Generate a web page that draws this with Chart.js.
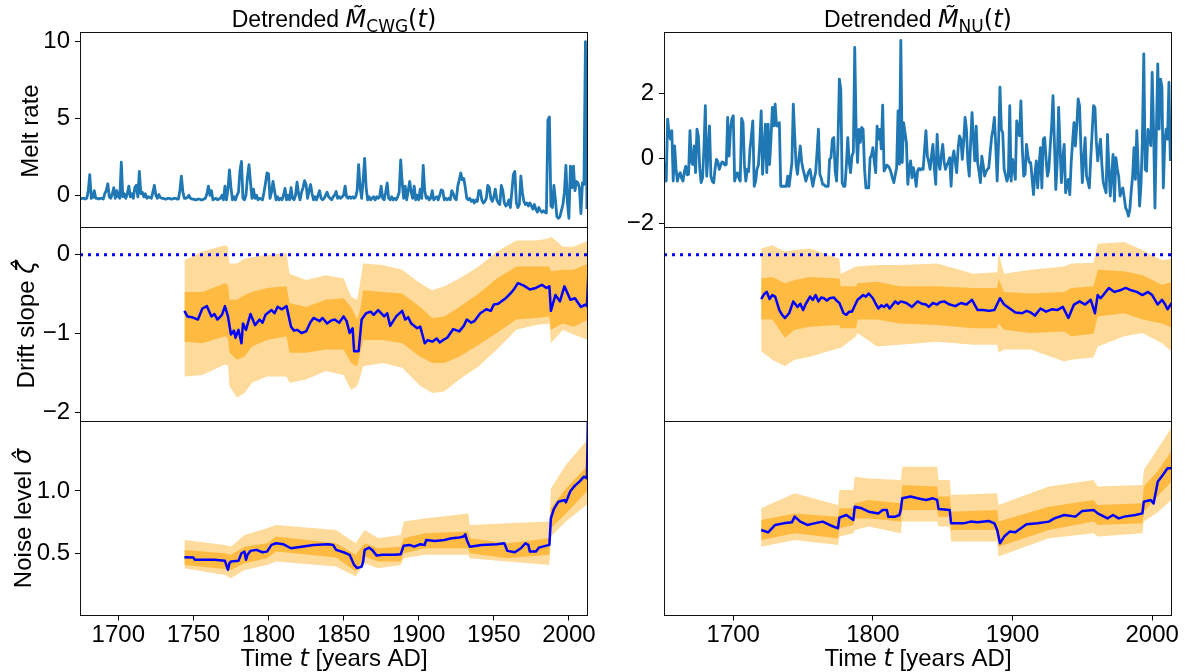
<!DOCTYPE html>
<html><head><meta charset="utf-8">
<script src="https://cdn.jsdelivr.net/npm/chart.js@4.4.1/dist/chart.umd.min.js"></script>
<style>
html,body{margin:0;padding:0;background:#fff;}
body{width:1187px;height:672px;position:relative;overflow:hidden;}
canvas{position:absolute;}
</style></head><body>
<canvas id="p11"></canvas><canvas id="p12"></canvas>
<canvas id="p21"></canvas><canvas id="p22"></canvas>
<canvas id="p31"></canvas><canvas id="p32"></canvas>
<script>
// ---------------- DATA ----------------
// Detrended melt rate, CWG (annual, 1675-2012)
const cwgStart = 1675;
const cwgMelt = [
-0.25,-0.2,-0.2,-0.25,-0.2,
0.3,1.35,-0.2,-0.15,0.3,-0.2,-0.2,-0.25,-0.2,-0.2,
-0.25,0.1,0.3,0.75,-0.1,-0.2,0.1,0.5,-0.2,0.3,
-0.1,-0.2,2.15,-0.1,0.1,-0.2,0.1,0.6,-0.1,0.1,
-0.2,0.5,0.65,-0.1,1.55,0.1,0.2,-0.1,0.1,-0.2,
-0.1,-0.15,-0.2,0.2,0.65,0.0,-0.2,0.05,-0.15,-0.2,
-0.2,-0.25,-0.25,-0.2,-0.2,-0.25,-0.25,-0.2,-0.2,-0.25,
-0.25,0.3,1.25,0.2,-0.2,-0.2,-0.15,0.0,-0.2,-0.25,
-0.25,-0.3,-0.3,-0.25,-0.25,-0.3,-0.3,-0.25,-0.2,0.1,
0.6,0.0,0.3,-0.3,-0.25,-0.2,-0.3,-0.25,-0.2,0.0,
-0.3,0.6,-0.3,0.4,1.65,0.5,-0.3,-0.1,-0.3,0.0,
0.2,1.6,2.2,-0.2,-0.3,0.0,1.2,2.0,0.85,-0.2,
0.4,-0.2,0.0,-0.3,-0.2,-0.25,-0.3,0.2,0.8,1.45,
1.4,-0.2,0.2,0.9,0.3,-0.3,-0.1,-0.3,-0.2,-0.3,
0.0,0.45,-0.3,0.0,-0.3,0.5,-0.2,-0.3,0.0,0.85,
0.1,-0.3,0.2,0.5,0.95,0.7,-0.2,0.3,0.7,0.1,
-0.3,-0.1,-0.3,0.0,0.3,-0.2,-0.3,-0.2,0.0,0.2,
-0.1,-0.2,-0.3,-0.1,0.0,0.25,-0.2,-0.1,-0.2,-0.1,
0.0,0.6,-0.1,-0.2,-0.1,-0.2,-0.1,-0.2,-0.1,0.3,
2.0,0.5,-0.2,1.0,2.4,0.5,-0.3,-0.1,-0.3,-0.2,
-0.1,-0.3,-0.1,-0.2,-0.1,0.6,-0.2,-0.3,0.2,0.8,
-0.2,-0.3,-0.1,-0.3,-0.2,-0.3,-0.1,0.2,2.3,0.8,
-0.2,0.6,-0.3,0.3,0.9,0.2,-0.2,0.6,-0.3,0.0,
-0.3,0.4,-0.2,1.95,0.3,-0.2,-0.1,-0.3,-0.2,0.3,
-0.3,-0.2,-0.1,-0.3,0.0,0.35,0.3,-0.3,-0.2,-0.3,
-0.2,-0.3,0.3,0.1,-0.2,-0.3,0.6,1.0,1.45,1.0,
1.1,0.5,-0.2,-0.3,-0.2,-0.4,-0.3,-0.5,-0.3,-0.4,
0.3,0.3,-0.3,-0.5,-0.4,-0.2,0.65,0.5,-0.2,-0.4,
-0.1,0.4,-0.3,-0.5,-0.6,0.65,0.3,-0.5,-0.7,-0.6,
-0.3,-0.8,0.2,1.35,1.55,-0.5,-0.8,-0.6,1.25,0.2,
-0.4,-0.6,-0.5,-0.7,-0.5,-0.7,-0.9,-0.6,-0.9,-1.1,
-0.8,-1.0,-1.1,-1.0,-1.1,-1.15,4.9,5.1,-0.7,-0.8,
0.65,-0.3,-1.4,-1.5,-1.4,-1.0,-0.6,0.2,1.95,-0.5,
-1.5,1.9,0.5,1.9,0.3,0.9,0.8,0.5,-1.2,0.8,
0.7,10.0,-0.9];

// Detrended melt rate, NU (annual, 1651-2013)
const nuStart = 1651;
const nuMelt = [
-0.12,-0.69,1.22,0.8,0.6,0.86,-0.69,0.39,-0.3,
-0.69,-0.5,-0.43,-0.6,-0.69,-0.4,-0.23,-0.5,-0.48,0.86,
-0.1,-0.18,0.39,-0.43,0.91,0.7,-0.3,-0.74,-0.6,0.29,
1.63,-0.54,0.2,1.01,-0.54,-0.7,-0.74,-0.3,-0.02,-0.1,
-0.33,-0.2,-0.1,-0.12,-0.2,-0.18,1.27,0.08,0.9,1.22,
1.32,-0.69,-0.5,-0.43,-0.6,-0.69,1.24,1.11,-0.2,-0.69,
-0.33,-0.4,0.3,0.7,1.16,-0.85,-0.7,-0.33,-0.2,0.5,
1.47,-0.48,0.3,1.06,-0.43,1.06,-0.18,0.6,1.58,1.01,
1.68,1.01,1.0,1.11,-0.85,-0.85,-0.85,-0.85,-0.85,-0.54,
-0.85,-0.5,-0.12,1.68,0.7,-0.2,-0.48,0.0,0.39,-0.1,
-0.33,-0.5,-0.69,-0.54,-0.4,-0.33,-0.6,-0.85,-0.6,-0.43,
0.2,0.91,-0.48,-0.6,-0.79,-0.8,-0.85,-0.85,-0.85,-0.02,
0.03,0.6,0.65,-0.4,-0.69,0.5,2.45,2.14,-0.74,-0.85,
-0.85,-0.2,0.65,-0.1,-0.43,0.08,0.2,3.43,0.85,-0.12,
0.9,0.5,0.96,0.9,-0.3,-0.9,-0.9,-0.9,0.03,0.1,
0.34,-0.1,-0.43,1.0,0.6,0.9,0.3,1.65,-0.38,-0.3,
-0.2,-0.23,-0.3,-0.43,-0.6,-0.74,-0.5,-0.28,1.47,-0.17,
3.64,-0.12,1.11,0.8,0.49,-0.79,-0.3,-0.07,-0.59,-0.28,
-0.5,-0.85,-0.38,-0.3,-0.35,-0.3,-0.33,0.3,0.86,0.08,
-0.1,-0.33,0.1,0.44,-0.3,-0.79,0.75,-0.1,-0.33,0.1,
0.44,-0.1,-0.33,-0.2,-0.1,0.03,-0.85,0.0,0.24,-0.1,
-0.43,0.3,0.7,0.6,-0.02,0.5,1.27,0.9,-0.1,-0.54,
0.5,1.42,0.6,-0.07,1.0,-0.12,-0.4,-0.74,0.08,-0.2,
-0.54,-0.4,-0.33,-0.28,0.2,0.65,0.9,1.27,0.39,-0.69,
0.5,2.2,0.9,0.8,-0.33,-0.5,-0.69,-0.54,1.63,-0.69,
-0.02,-0.3,-0.64,1.16,0.9,0.7,1.78,0.3,-0.54,-0.48,
0.44,0.1,-0.12,-0.12,-0.6,-1.11,-0.5,-0.07,-0.9,-0.2,
0.34,-0.9,0.6,0.65,0.0,-0.54,-0.33,0.39,1.0,1.94,
0.5,-0.95,-0.12,1.58,0.4,-0.74,0.0,0.44,-1.05,-0.8,
-0.64,-1.11,-0.12,0.5,1.11,0.39,1.0,1.84,1.63,0.3,
-0.74,0.0,0.65,-0.54,-0.7,-0.9,0.0,0.8,1.63,1.58,
0.54,-0.07,0.3,0.6,-0.2,-0.74,-0.9,-1.05,0.75,-0.3,
-1.15,-0.5,0.13,-1.31,0.03,-0.3,-0.54,-1.15,-1.0,-0.9,
-1.2,-1.52,-1.6,-1.77,-1.57,-1.0,-0.54,0.34,-0.64,0.86,
-0.3,-1.46,-0.8,0.6,3.23,-0.33,-0.38,0.9,0.7,0.4,
2.66,0.91,-1.52,0.8,2.92,0.91,2.45,2.2,-0.9,0.5,
0.91,0.6,2.35,-0.07];

// Drift slope, CWG
const cwgDriftYears = [1744,1746,1749,1753,1756,1759,1762,1764,1766,1769,1771,1773,1775,1777,1778,1780,1782,1783,1785,1788,1791,1794,1796,1798,1802,1804,1806,1809,1812,1815,1817,1819,1822,1825,1828,1830,1834,1836,1839,1842,1844,1847,1850,1852,1854,1856,1857,1860,1862,1865,1868,1870,1873,1877,1879,1881,1885,1889,1891,1893,1895,1899,1901,1904,1906,1909,1912,1914,1917,1919,1923,1927,1930,1932,1935,1937,1941,1945,1948,1950,1953,1955,1958,1960,1962,1964,1966,1970,1974,1978,1982,1985,1987,1988,1991,1994,1997,2001,2004,2008,2011,2012,2013];
const cwgDrift = [-0.71,-0.78,-0.79,-0.82,-0.68,-0.65,-0.78,-0.75,-0.82,-0.76,-0.65,-0.78,-1.01,-0.96,-1.05,-0.95,-1.12,-0.87,-0.95,-0.75,-0.89,-0.82,-0.86,-0.76,-0.70,-0.74,-0.66,-0.69,-0.65,-0.91,-0.96,-0.95,-0.99,-0.97,-0.85,-0.80,-0.84,-0.80,-0.87,-0.83,-0.82,-0.86,-0.78,-0.84,-0.99,-0.93,-1.22,-1.22,-0.82,-0.74,-0.72,-0.76,-0.70,-0.78,-0.74,-0.90,-0.78,-0.71,-0.82,-0.79,-0.87,-0.93,-0.91,-1.12,-1.08,-1.10,-1.06,-1.11,-1.07,-1.05,-0.94,-0.97,-0.90,-0.82,-0.86,-0.84,-0.74,-0.69,-0.71,-0.63,-0.62,-0.59,-0.55,-0.51,-0.47,-0.42,-0.36,-0.39,-0.44,-0.42,-0.38,-0.42,-0.40,-0.71,-0.51,-0.59,-0.40,-0.57,-0.55,-0.66,-0.63,-0.65,-0.2];
const cwgDriftBandYears = [1744,1756,1771,1773,1774,1779,1784,1789,1799,1812,1814,1825,1838,1850,1855,1859,1861,1863,1876,1889,1901,1909,1917,1927,1940,1952,1965,1978,1987,1988,1996,2003,2013];
const cwgDriftInnerHi = [-0.47,-0.47,-0.36,-0.38,-0.57,-0.57,-0.51,-0.47,-0.42,-0.40,-0.61,-0.66,-0.57,-0.55,-0.66,-0.82,-0.70,-0.45,-0.47,-0.49,-0.66,-0.80,-0.78,-0.66,-0.49,-0.30,-0.15,-0.15,-0.15,-0.21,-0.19,-0.19,-0.11];
const cwgDriftInnerLo = [-1.10,-1.12,-1.03,-1.05,-1.24,-1.33,-1.29,-1.16,-1.08,-1.03,-1.24,-1.24,-1.20,-1.20,-1.37,-1.41,-1.25,-1.08,-1.08,-1.12,-1.29,-1.37,-1.37,-1.29,-1.14,-0.99,-0.82,-0.80,-0.78,-0.95,-0.87,-0.91,-0.82];
const cwgDriftOuterHi = [-0.07,0.04,0.12,0.10,-0.11,-0.11,-0.05,-0.03,0.0,0.02,-0.24,-0.32,-0.26,-0.30,-0.53,-0.57,-0.35,-0.11,-0.13,-0.19,-0.36,-0.45,-0.40,-0.30,-0.15,0.04,0.18,0.18,0.21,0.23,0.10,0.10,0.18];
const cwgDriftOuterLo = [-1.54,-1.52,-1.39,-1.40,-1.66,-1.81,-1.75,-1.62,-1.54,-1.54,-1.62,-1.58,-1.47,-1.52,-1.71,-1.66,-1.55,-1.41,-1.37,-1.43,-1.66,-1.75,-1.73,-1.58,-1.41,-1.20,-0.95,-0.89,-0.87,-1.12,-0.95,-1.01,-1.08];

// Drift slope, NU
const nuDriftYears = [1720,1722,1724,1726,1728,1730,1733,1735,1737,1740,1743,1746,1748,1750,1752,1755,1757,1759,1761,1763,1765,1767,1769,1772,1774,1776,1779,1781,1783,1785,1789,1791,1793,1795,1797,1800,1802,1804,1806,1808,1810,1812,1816,1818,1820,1824,1828,1832,1835,1838,1840,1843,1846,1848,1851,1855,1859,1863,1867,1871,1875,1879,1883,1887,1891,1894,1898,1902,1907,1910,1913,1916,1920,1924,1928,1932,1936,1940,1944,1948,1952,1956,1959,1961,1963,1965,1969,1973,1977,1981,1985,1989,1993,1997,2000,2004,2007,2009,2011,2014];
const nuDrift = [-0.56,-0.50,-0.47,-0.56,-0.51,-0.53,-0.70,-0.76,-0.80,-0.74,-0.59,-0.66,-0.62,-0.70,-0.62,-0.53,-0.57,-0.51,-0.59,-0.54,-0.55,-0.58,-0.55,-0.54,-0.58,-0.61,-0.74,-0.76,-0.72,-0.72,-0.57,-0.54,-0.51,-0.53,-0.49,-0.55,-0.62,-0.68,-0.64,-0.66,-0.63,-0.68,-0.59,-0.62,-0.59,-0.61,-0.66,-0.59,-0.62,-0.63,-0.66,-0.61,-0.63,-0.60,-0.59,-0.63,-0.65,-0.61,-0.63,-0.57,-0.70,-0.70,-0.71,-0.70,-0.55,-0.63,-0.68,-0.73,-0.74,-0.71,-0.73,-0.77,-0.68,-0.72,-0.69,-0.70,-0.66,-0.80,-0.63,-0.59,-0.63,-0.57,-0.74,-0.51,-0.55,-0.51,-0.42,-0.47,-0.45,-0.42,-0.45,-0.47,-0.51,-0.47,-0.51,-0.63,-0.57,-0.62,-0.69,-0.61];
const nuDriftBandYears = [1720,1728,1737,1744,1755,1776,1777,1788,1789,1803,1819,1846,1872,1889,1890,1894,1913,1937,1942,1958,1961,1980,1993,2007,2015];
const nuDriftInnerHi = [-0.30,-0.28,-0.36,-0.32,-0.28,-0.30,-0.40,-0.40,-0.36,-0.34,-0.40,-0.40,-0.42,-0.42,-0.30,-0.47,-0.49,-0.47,-0.42,-0.40,-0.19,-0.21,-0.26,-0.38,-0.34];
const nuDriftInnerLo = [-0.82,-0.82,-1.05,-0.95,-0.91,-0.89,-0.93,-0.93,-0.82,-0.82,-0.87,-0.89,-0.93,-0.93,-0.87,-0.95,-0.99,-0.97,-1.03,-1.00,-0.78,-0.74,-0.82,-0.87,-0.93];
const nuDriftOuterHi = [0.08,0.12,0.04,0.06,0.08,-0.05,-0.24,-0.15,-0.15,-0.13,-0.13,-0.11,-0.24,-0.22,0.02,-0.24,-0.19,-0.15,-0.11,-0.10,0.14,0.16,0.06,-0.07,-0.05];
const nuDriftOuterLo = [-1.22,-1.33,-1.41,-1.33,-1.29,-1.18,-1.18,-1.03,-0.99,-1.16,-1.14,-1.10,-1.14,-1.14,-1.24,-1.20,-1.20,-1.35,-1.33,-1.30,-1.16,-1.03,-0.99,-1.12,-1.24];

// Noise level, CWG
const cwgNoiseYears = [1744,1750,1751,1764,1771,1773,1774,1775,1780,1782,1784,1785,1786,1788,1792,1796,1799,1802,1805,1810,1815,1822,1830,1840,1843,1845,1850,1854,1857,1859,1862,1863,1864,1867,1869,1872,1876,1884,1888,1890,1894,1897,1901,1904,1905,1911,1917,1922,1927,1930,1931,1932,1934,1942,1952,1957,1959,1964,1968,1971,1973,1974,1978,1980,1985,1987,1988,1990,1993,1997,1998,2001,2004,2007,2010,2012,2013];
const cwgNoise = [0.468,0.465,0.447,0.447,0.439,0.367,0.42,0.433,0.439,0.50,0.513,0.447,0.487,0.519,0.527,0.508,0.513,0.567,0.58,0.572,0.54,0.553,0.567,0.572,0.567,0.527,0.508,0.487,0.406,0.38,0.393,0.433,0.527,0.545,0.527,0.481,0.487,0.487,0.492,0.561,0.567,0.553,0.572,0.567,0.607,0.599,0.607,0.62,0.626,0.634,0.652,0.607,0.553,0.567,0.572,0.58,0.519,0.508,0.54,0.58,0.567,0.513,0.513,0.545,0.561,0.567,0.781,0.856,0.914,0.928,0.909,1.0,1.043,1.075,1.115,1.102,1.9];
const cwgNoiseBandYears = [1744,1771,1775,1784,1799,1805,1845,1858,1864,1873,1888,1890,1904,1933,1934,1959,1987,1988,1998,2013];
const cwgNoiseInnerHi = [0.527,0.50,0.487,0.553,0.58,0.634,0.58,0.487,0.58,0.54,0.553,0.62,0.66,0.674,0.62,0.58,0.62,0.861,1.02,1.21];
const cwgNoiseInnerLo = [0.406,0.374,0.366,0.42,0.46,0.513,0.465,0.353,0.473,0.433,0.433,0.50,0.54,0.54,0.50,0.46,0.487,0.70,0.82,1.01];
const cwgNoiseOuterHi = [0.607,0.567,0.553,0.647,0.70,0.727,0.687,0.58,0.687,0.62,0.647,0.754,0.78,0.82,0.727,0.74,0.754,1.02,1.21,1.42];
const cwgNoiseOuterLo = [0.38,0.326,0.30,0.366,0.406,0.433,0.393,0.313,0.42,0.38,0.406,0.46,0.487,0.487,0.46,0.433,0.406,0.634,0.754,0.90];

// Noise level, NU
const nuNoiseYears = [1720,1725,1730,1736,1742,1744,1748,1753,1758,1764,1769,1775,1776,1781,1786,1787,1792,1797,1804,1807,1810,1811,1816,1819,1820,1821,1827,1832,1838,1843,1846,1847,1855,1856,1865,1870,1875,1883,1887,1889,1891,1894,1898,1902,1906,1910,1918,1926,1930,1937,1945,1950,1958,1961,1968,1972,1976,1980,1988,1993,1994,1999,2001,2004,2008,2011,2014];
const nuNoise = [0.687,0.668,0.727,0.74,0.748,0.794,0.754,0.727,0.74,0.754,0.727,0.70,0.786,0.807,0.767,0.874,0.861,0.834,0.82,0.847,0.847,0.794,0.794,0.807,0.85,0.941,0.955,0.941,0.928,0.941,0.928,0.856,0.848,0.74,0.74,0.754,0.748,0.759,0.74,0.687,0.58,0.634,0.674,0.668,0.70,0.733,0.74,0.754,0.78,0.807,0.794,0.84,0.848,0.82,0.78,0.807,0.78,0.794,0.807,0.82,0.914,0.928,0.90,1.075,1.134,1.182,1.182];
const nuNoiseBandYears = [1720,1744,1775,1776,1786,1787,1797,1820,1821,1846,1847,1855,1856,1889,1890,1926,1958,1961,1993,1994,2004,2015];
const nuNoiseInnerHi = [0.767,0.82,0.794,0.861,0.861,0.901,0.928,0.901,1.048,1.035,0.955,0.955,0.834,0.847,0.754,0.874,0.928,0.888,0.901,1.035,1.16,1.342];
const nuNoiseInnerLo = [0.607,0.66,0.62,0.70,0.727,0.78,0.78,0.754,0.847,0.847,0.794,0.794,0.687,0.687,0.553,0.687,0.754,0.727,0.74,0.834,0.96,1.088];
const nuNoiseOuterHi = [0.861,0.981,0.888,1.008,1.008,1.115,1.10,1.088,1.195,1.195,1.088,1.088,0.968,0.981,0.888,1.035,1.088,1.035,1.048,1.168,1.34,1.53];
const nuNoiseOuterLo = [0.553,0.607,0.567,0.634,0.66,0.687,0.714,0.66,0.754,0.754,0.714,0.714,0.594,0.594,0.473,0.62,0.66,0.634,0.66,0.754,0.83,0.941];

// Axis ticks and limits
const cwgYearTicks = [1700,1750,1800,1850,1900,1950,2000];
const nuYearTicks = [1700,1800,1900,2000];
const cwgYearLim = [1674.5, 2012.7];
const nuYearLim = [1650.4, 2014.2];
const cwgMeltTicks = [0,5,10];
const cwgMeltLim = [-2.1, 10.57];
const nuMeltTicks = [-2,0,2];
const nuMeltLim = [-2.12, 3.87];
const driftTicks = [-2,-1,0];
const driftLim = [-2.11, 0.345];
const noiseTicks = [0.5,1.0];
const noiseLim = [0.0, 1.558];
const zeroLevel = 0;

// ---------------- RENDERING ----------------
const FS = 24;
const AR = n => n + 'px "Liberation Sans", Arial, sans-serif';
const DJ = n => n + 'px "DejaVu Sans", sans-serif';
const DJI = n => 'italic ' + n + 'px "DejaVu Sans", sans-serif';
const MINUS = '\u2212';
const fmtInt = v => (v < 0 ? MINUS + Math.abs(v) : String(v));
const fmt1 = v => v.toFixed(1);

const OUTER = 'rgb(254,219,155)';
const INNER = 'rgb(255,186,66)';
const MELT = '#1f77b4';
const MEAN = '#0000ff';

function pts(xs, ys) { return xs.map((x, i) => ({x: x, y: ys[i]})); }
function annual(start, vals) { return vals.map((v, i) => ({x: start + i, y: v})); }
function lineDs(data, color, w, extra) {
  return Object.assign({data, borderColor: color, borderWidth: w, pointRadius: 0, fill: false, tension: 0, clip: 0, borderJoinStyle: 'round'}, extra || {});
}
function bandDs(xs, hi, lo, color) {
  return [
    {data: pts(xs, hi), borderColor: 'rgba(0,0,0,0)', borderWidth: 0, backgroundColor: color, fill: '+1', pointRadius: 0, tension: 0, clip: 0},
    {data: pts(xs, lo), borderColor: 'rgba(0,0,0,0)', borderWidth: 0, fill: false, pointRadius: 0, tension: 0, clip: 0}
  ];
}

function drawRich(ctx, parts, x, y, rot) {
  ctx.save();
  ctx.translate(x, y);
  if (rot) ctx.rotate(rot);
  ctx.fillStyle = '#000';
  ctx.textBaseline = 'alphabetic';
  ctx.textAlign = 'left';
  let total = 0;
  const ws = parts.map(p => { ctx.font = p[1]; const w = ctx.measureText(p[0]).width; total += w; return w; });
  let px = -total / 2;
  parts.forEach((p, i) => { ctx.font = p[1]; ctx.fillText(p[0], px, p[2] || 0); px += ws[i]; });
  ctx.restore();
}

const framePlugin = {
  id: 'frame',
  afterDraw(chart) {
    const a = chart.chartArea, c = chart.ctx;
    const l = Math.round(a.left) + 0.5, r = Math.round(a.right) - 0.5;
    const t = Math.round(a.top) - 0.5, b = Math.round(a.bottom) - 0.5;
    c.save();
    c.strokeStyle = '#111';
    c.lineWidth = 1;
    c.strokeRect(l, t, r - l, b - t);
    c.restore();
  }
};

function textPlugin(g) {
  return {
    id: 'texts',
    afterDraw(chart) {
      const c = chart.ctx;
      c.save();
      c.translate(-g.cx, -g.cy);
      (g.texts || []).forEach(t => drawRich(c, t.parts, t.x, t.y, t.rot));
      c.restore();
    }
  };
}

function panel(id, g) {
  const cv = document.getElementById(id);
  cv.width = g.cw; cv.height = g.ch;
  cv.style.left = g.cx + 'px'; cv.style.top = g.cy + 'px';
  cv.style.width = g.cw + 'px'; cv.style.height = g.ch + 'px';
  const showX = !!g.xTicks;
  new Chart(cv, {
    type: 'line',
    data: {datasets: g.datasets},
    options: {
      responsive: false, animation: false, devicePixelRatio: 1, events: [],
      layout: {padding: {left: 0, right: g.cx + g.cw - g.R, top: g.T - g.cy, bottom: showX ? 0 : (g.cy + g.ch - g.B)}},
      plugins: {legend: {display: false}, tooltip: {enabled: false}, title: {display: false}},
      scales: {
        x: {
          type: 'linear', min: g.xLim[0], max: g.xLim[1], bounds: 'data', display: showX,
          afterBuildTicks: s => { s.ticks = (g.xTicks || []).map(v => ({value: v})); },
          afterFit: s => { s.height = showX ? (g.cy + g.ch - g.B) : 0; },
          grid: {display: true, drawOnChartArea: false, drawTicks: true, tickLength: 5, color: '#000', lineWidth: 1},
          border: {display: false},
          ticks: {font: {family: '"Liberation Sans", Arial, sans-serif', size: FS}, color: '#000', padding: 0, autoSkip: false, maxRotation: 0, minRotation: 0, callback: v => String(v)}
        },
        y: {
          type: 'linear', min: g.yLim[0], max: g.yLim[1], bounds: 'data',
          afterBuildTicks: s => { s.ticks = (g.yTicks || []).map(v => ({value: v})); },
          afterFit: s => { s.width = g.L - g.cx; },
          grid: {display: !!g.yTicks, drawOnChartArea: false, drawTicks: true, tickLength: 5, color: '#000', lineWidth: 1},
          border: {display: false},
          ticks: {display: !!g.yTicks, font: {family: '"Liberation Sans", Arial, sans-serif', size: FS}, color: '#000', padding: 5, autoSkip: false, callback: g.yFmt || fmtInt}
        }
      }
    },
    plugins: [framePlugin, textPlugin(g)]
  });
}

// geometry (page pixels)
const COLS = [{L: 80, R: 588, cx: 0, cw: 603}, {L: 664, R: 1172, cx: 584, cw: 603}];
const ROWS = [{T: 33, B: 227.5, cy: 0, ch: 290}, {T: 227.5, B: 421.5, cy: 187, ch: 295}, {T: 421.5, B: 615.5, cy: 381, ch: 291}];
function geo(ci, ri) {
  const c = COLS[ci], r = ROWS[ri];
  return {L: c.L, R: c.R, cx: c.cx, cw: c.cw, T: r.T, B: r.B, cy: r.cy, ch: r.ch};
}
const titleParts = sub => [['Detrended ', AR(23)], ['M\u0303', DJI(24)], [sub, DJ(17), 5], ['(', DJ(24)], ['t', DJI(24)], [')', DJ(24)]];
const xlabelParts = [['Time ', AR(FS)], ['t', DJI(FS)], [' [years AD]', AR(FS)]];

// Row 1
panel('p11', Object.assign(geo(0, 0), {
  xLim: cwgYearLim, yLim: cwgMeltLim, yTicks: cwgMeltTicks,
  datasets: [lineDs(annual(cwgStart, cwgMelt), MELT, 2.8)],
  texts: [
    {parts: titleParts('CWG'), x: 334, y: 27},
    {parts: [['Melt rate', AR(FS)]], x: 38, y: 131, rot: -Math.PI / 2}
  ]
}));
panel('p12', Object.assign(geo(1, 0), {
  xLim: nuYearLim, yLim: nuMeltLim, yTicks: nuMeltTicks,
  datasets: [lineDs(annual(nuStart, nuMelt), MELT, 2.8)],
  texts: [{parts: titleParts('NU'), x: 918, y: 27}]
}));

// Row 2
function zeroDs(lim) { return lineDs([{x: lim[0], y: zeroLevel}, {x: lim[1], y: zeroLevel}], MEAN, 3, {borderDash: [3, 5]}); }
panel('p21', Object.assign(geo(0, 1), {
  xLim: cwgYearLim, yLim: driftLim, yTicks: driftTicks,
  datasets: [zeroDs(cwgYearLim), lineDs(pts(cwgDriftYears, cwgDrift), MEAN, 2.5)]
    .concat(bandDs(cwgDriftBandYears, cwgDriftInnerHi, cwgDriftInnerLo, INNER))
    .concat(bandDs(cwgDriftBandYears, cwgDriftOuterHi, cwgDriftOuterLo, OUTER)),
  texts: [{parts: [['Drift slope ', AR(FS)], ['\u03B6\u0302', DJI(FS)]], x: 34, y: 324.5, rot: -Math.PI / 2}]
}));
panel('p22', Object.assign(geo(1, 1), {
  xLim: nuYearLim, yLim: driftLim, yTicks: null,
  datasets: [zeroDs(nuYearLim), lineDs(pts(nuDriftYears, nuDrift), MEAN, 2.5)]
    .concat(bandDs(nuDriftBandYears, nuDriftInnerHi, nuDriftInnerLo, INNER))
    .concat(bandDs(nuDriftBandYears, nuDriftOuterHi, nuDriftOuterLo, OUTER)),
  texts: []
}));

// Row 3
panel('p31', Object.assign(geo(0, 2), {
  xLim: cwgYearLim, yLim: noiseLim, yTicks: noiseTicks, yFmt: fmt1, xTicks: cwgYearTicks,
  datasets: [lineDs(pts(cwgNoiseYears, cwgNoise), MEAN, 2.5)]
    .concat(bandDs(cwgNoiseBandYears, cwgNoiseInnerHi, cwgNoiseInnerLo, INNER))
    .concat(bandDs(cwgNoiseBandYears, cwgNoiseOuterHi, cwgNoiseOuterLo, OUTER)),
  texts: [
    {parts: [['Noise level ', AR(FS)], ['\u03C3\u0302', DJI(FS)]], x: 31, y: 518.5, rot: -Math.PI / 2},
    {parts: xlabelParts, x: 334, y: 666}
  ]
}));
panel('p32', Object.assign(geo(1, 2), {
  xLim: nuYearLim, yLim: noiseLim, yTicks: null, xTicks: nuYearTicks,
  datasets: [lineDs(pts(nuNoiseYears, nuNoise), MEAN, 2.5)]
    .concat(bandDs(nuNoiseBandYears, nuNoiseInnerHi, nuNoiseInnerLo, INNER))
    .concat(bandDs(nuNoiseBandYears, nuNoiseOuterHi, nuNoiseOuterLo, OUTER)),
  texts: [{parts: xlabelParts, x: 918, y: 666}]
}));
</script>
</body></html>
